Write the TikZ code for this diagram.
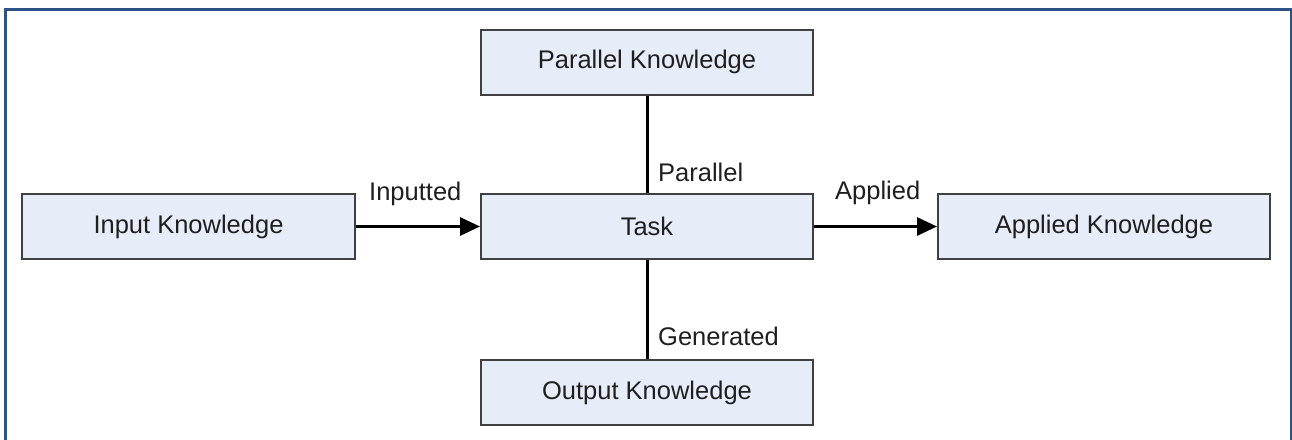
\documentclass[tikz,border=0pt]{standalone}
\usepackage{fontspec}
\setmainfont{Liberation Sans}
\usetikzlibrary{arrows.meta}
\definecolor{boxfill}{HTML}{E6ECF8}
\definecolor{boxline}{HTML}{404040}
\definecolor{framecol}{HTML}{2C5288}
\tikzset{
  kbox/.style={draw=boxline, line width=2pt, fill=boxfill, minimum width=332pt, minimum height=65pt, inner sep=0pt, font=\fontsize{25.5}{29}\selectfont, text=black!88},
  lbl/.style={anchor=base west, inner sep=0pt, font=\fontsize{25.5}{29}\selectfont, text=black!88},
  conn/.style={line width=3pt, black},
  arr/.style={conn, -{Triangle[length=20pt,width=18pt]}},
}
\begin{document}
\begin{tikzpicture}[x=1pt,y=-1pt]
\useasboundingbox (0,0) rectangle (1292,439);
\draw[framecol, line width=3pt] (5,445) -- (5,9) -- (1291,9) -- (1291,445);
\node[kbox] (par) at (647,62) {Parallel Knowledge};
\node[kbox] (task) at (647,226.5) {Task};
\node[kbox, minimum width=333pt] (in) at (188.5,226.5) {Input Knowledge};
\node[kbox] (app) at (1104,226.5) {Applied Knowledge};
\node[kbox] (out) at (647,392.5) {Output Knowledge};
\draw[arr] (in) -- (task);
\draw[arr] (task) -- (app);
\draw[conn] (par) -- (task);
\draw[conn] (task) -- (out);
\node[lbl] (linp) at (369,200) {Inputted};
\node[lbl] (lapp) at (835,199) {Applied};
\node[lbl] (lpar) at (658,181) {Parallel};
\node[lbl] (lgen) at (658,345) {Generated};
\end{tikzpicture}
\end{document}
